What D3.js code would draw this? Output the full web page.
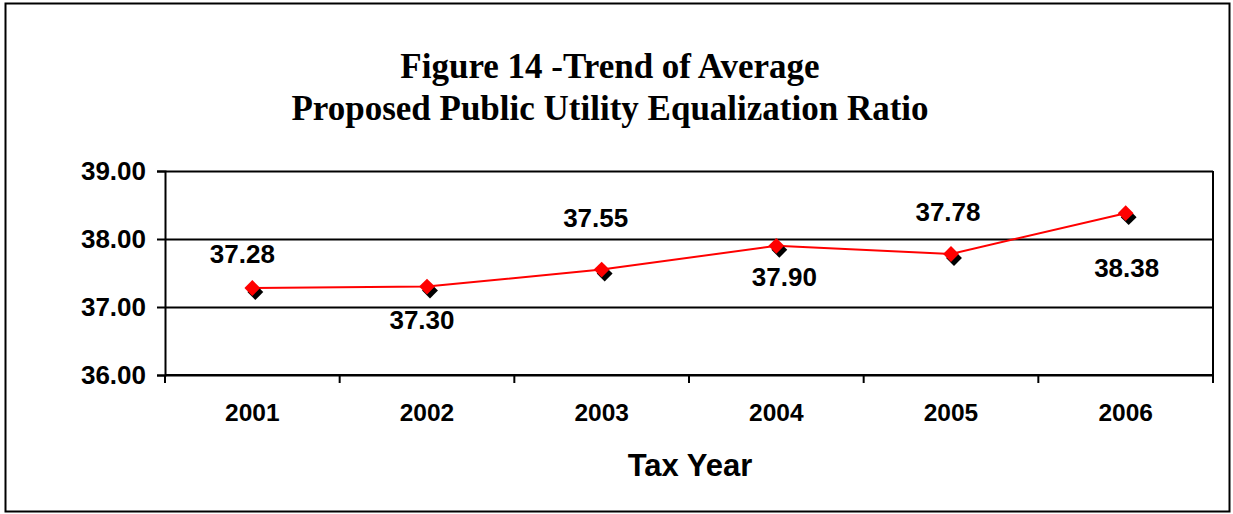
<!DOCTYPE html>
<html>
<head>
<meta charset="utf-8">
<script src="https://cdn.jsdelivr.net/npm/d3@7"></script>
<style>
  html, body { margin: 0; padding: 0; background: #fff; }
  svg { display: block; }
</style>
</head>
<body>
<svg id="chart" width="1233" height="514"></svg>
<script>
// Tax years and average proposed public utility equalization ratio
const years = ["2001", "2002", "2003", "2004", "2005", "2006"];
const ratios = [37.28, 37.30, 37.55, 37.90, 37.78, 38.38];
const yTicks = [36, 37, 38, 39];
const titleLines = ["Figure 14 -Trend of Average", "Proposed Public Utility Equalization Ratio"];
const xTitle = "Tax Year";

// Label placement per point: offset of the text baseline from the marker
const labelDy = [-25, 42, -43, 40, -33, 64];
const labelDx = [-10, -5, -6, 8, -3, 1];

const svg = d3.select("#chart");
const plot = { left: 165, right: 1213, top: 171, bottom: 375 };
const sans = "'Liberation Sans', Arial, sans-serif";

// outer frame
svg.append("rect")
  .attr("x", 5.5).attr("y", 3.5)
  .attr("width", 1224).attr("height", 508)
  .attr("fill", "#fff").attr("stroke", "#000").attr("stroke-width", 2);

// title
const title = svg.append("text")
  .attr("text-anchor", "middle")
  .attr("font-family", "'Liberation Serif', 'Times New Roman', serif")
  .attr("font-weight", "bold").attr("font-size", 35);
titleLines.forEach((t, i) => {
  title.append("tspan").attr("x", 610).attr("y", 78 + i * 42).text(t);
});

const x = d3.scaleBand().domain(years).range([plot.left, plot.right]);
const y = d3.scaleLinear().domain([36, 39]).range([plot.bottom, plot.top]);

// horizontal gridlines
svg.append("g").selectAll("line").data(yTicks).join("line")
  .attr("x1", plot.left).attr("x2", plot.right)
  .attr("y1", d => Math.round(y(d)) + 0.5).attr("y2", d => Math.round(y(d)) + 0.5)
  .attr("stroke", "#000").attr("stroke-width", 2);

// right plot border
svg.append("line")
  .attr("x1", plot.right).attr("x2", plot.right)
  .attr("y1", plot.top).attr("y2", plot.bottom)
  .attr("stroke", "#000").attr("stroke-width", 2);

// y axis
const yAxis = d3.axisLeft(y).tickValues(yTicks).tickFormat(d3.format(".2f")).tickSize(8).tickPadding(11);
const gy = svg.append("g").attr("transform", `translate(${plot.left},0)`).call(yAxis);
gy.select(".domain").attr("stroke-width", 2);
gy.selectAll(".tick line").attr("stroke-width", 2);
gy.selectAll(".tick text")
  .attr("font-family", sans)
  .attr("font-weight", "bold").attr("font-size", 26).attr("fill", "#000");

// x axis with tick marks at category boundaries
const gx = svg.append("g").attr("transform", `translate(0,${plot.bottom})`);
gx.append("line").attr("x1", plot.left).attr("x2", plot.right)
  .attr("y1", 0).attr("y2", 0).attr("stroke", "#000").attr("stroke-width", 2);
const bounds = years.map(d => x(d)).concat([plot.right]);
gx.selectAll("line.tk").data(bounds).join("line").attr("class", "tk")
  .attr("x1", d => d).attr("x2", d => d).attr("y1", 0).attr("y2", 8)
  .attr("stroke", "#000").attr("stroke-width", 2);
gx.selectAll("text").data(years).join("text")
  .attr("x", d => x(d) + x.bandwidth() / 2).attr("y", 46)
  .attr("text-anchor", "middle")
  .attr("font-family", sans)
  .attr("font-weight", "bold").attr("font-size", 24.5).text(d => d);

svg.append("text")
  .attr("x", 690).attr("y", 476).attr("text-anchor", "middle")
  .attr("font-family", sans)
  .attr("font-weight", "bold").attr("font-size", 31).text(xTitle);

// series line
const pts = years.map((d, i) => ({ year: d, v: ratios[i], i }));
const px = d => x(d.year) + x.bandwidth() / 2;
svg.append("path").datum(pts)
  .attr("d", d3.line().x(px).y(d => y(d.v)))
  .attr("fill", "none").attr("stroke", "#ff0000").attr("stroke-width", 2);

// diamond markers with a dark drop shadow
const diamond = d3.symbol().type(d3.symbolDiamond2).size(160);
svg.append("g").selectAll("path").data(pts).join("path")
  .attr("d", diamond)
  .attr("transform", d => `translate(${px(d) + 3},${y(d.v) + 4})`)
  .attr("fill", "#000");
svg.append("g").selectAll("path").data(pts).join("path")
  .attr("d", diamond)
  .attr("transform", d => `translate(${px(d)},${y(d.v)})`)
  .attr("fill", "#ff0000");

// value labels
svg.append("g").selectAll("text").data(pts).join("text")
  .attr("x", d => px(d) + labelDx[d.i])
  .attr("y", d => y(d.v) + labelDy[d.i])
  .attr("text-anchor", "middle")
  .attr("font-family", sans)
  .attr("font-weight", "bold").attr("font-size", 26)
  .text(d => d.v.toFixed(2));
</script>
</body>
</html>
